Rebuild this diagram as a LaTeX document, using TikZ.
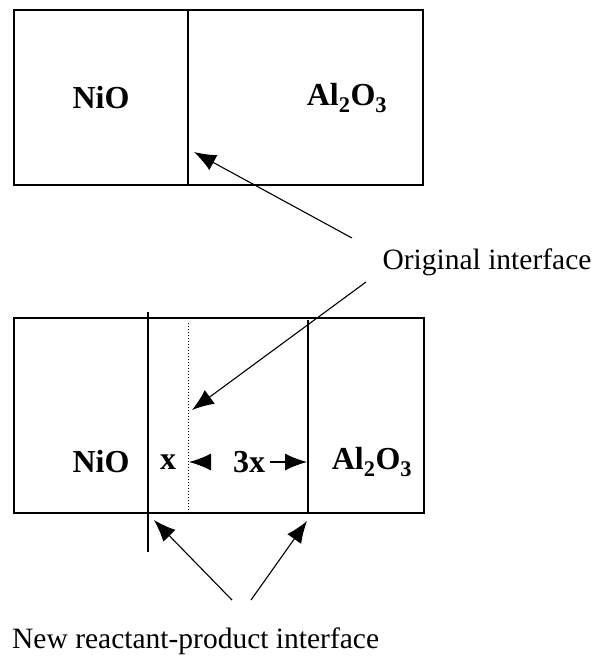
\documentclass[tikz,border=0pt]{standalone}
\usepackage{fontspec}
\setmainfont{Liberation Serif}
\usetikzlibrary{arrows.meta}
\begin{document}
\begin{tikzpicture}[x=1pt,y=-1pt,
  box/.style={line width=1.2pt},
  ptr/.style={line width=1.1pt,-{Latex[length=22pt,width=17pt]}},
  lbl/.style={font=\fontsize{32}{36}\selectfont\bfseries,inner sep=0pt},
  captext/.style={font=\fontsize{29.5}{33}\selectfont,inner sep=0pt}]
\useasboundingbox (0,0) rectangle (600,657);
% top box
\draw[box] (14,10) rectangle (423,185);
\draw[box] (188,10) -- (188,185);
\node[lbl] (nio1) at (101,98) {NiO};
\node[lbl] (al1) at (347,98) {Al\textsubscript{2}O\textsubscript{3}};
\node[captext] (orig) at (487,262) {Original interface};
\coordinate (t1) at (194,152);
\coordinate (o1) at (352,238);
\draw[ptr] (o1) -- (t1);
% bottom box
\draw[box] (14,318) rectangle (424,513);
\draw[box] (148,312) -- (148,552);
\draw[box] (308,320) -- (308,513);
\draw[line width=1pt,dotted] (188,323) -- (188,510);
\node[lbl] (nio2) at (101,462) {NiO};
\node[lbl] (xx) at (168,462) {x};
\node[lbl] (x3) at (249,462) {3x};
\node[lbl] (al2) at (372,462) {Al\textsubscript{2}O\textsubscript{3}};
\coordinate (t2) at (192,410);
\coordinate (o2) at (366,282);
\draw[ptr] (o2) -- (t2);
\coordinate (d1) at (189,462);
\coordinate (d1b) at (210,462);
\draw[ptr] (d1b) -- (d1);
\coordinate (d2) at (307,462);
\coordinate (d2b) at (270,462);
\draw[ptr] (d2b) -- (d2);
% bottom arrows
\node[captext,anchor=base west] (newi) at (12,648) {New reactant-product interface};
\coordinate (b1) at (154,520);
\coordinate (b2) at (307,521);
\coordinate (s1) at (232,600);
\coordinate (s2) at (251,600);
\draw[ptr] (s1) -- (b1);
\draw[ptr] (s2) -- (b2);
\end{tikzpicture}
\end{document}
